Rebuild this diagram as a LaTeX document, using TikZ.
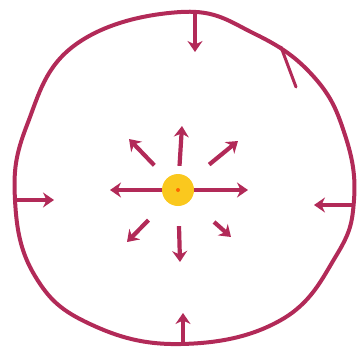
\documentclass[tikz,border=0pt]{standalone}
\usetikzlibrary{arrows.meta}
\definecolor{ring}{RGB}{178,42,88}
\definecolor{sunny}{RGB}{250,200,30}
\tikzset{
  push/.style={ring,line width=4.2pt,-{Stealth[length=11pt,width=15pt]}},
  sundot/.style={circle,fill=sunny,minimum size=32pt,inner sep=0pt}
}
\begin{document}
\begin{tikzpicture}[x=1pt,y=-1pt]
  \useasboundingbox (0,0) rectangle (361,353);
  % the ring
  \draw[ring,line width=4pt,line join=round] plot[smooth cycle,tension=0.7] coordinates
    {(181,12) (255,34) (314,77) (345,135) (354,200) (336,256) (281,320) (181,344)
     (90,324) (35,276) (15,200) (27,125) (75,45)};
  \draw[ring,line width=3pt,line cap=round] (281,47) -- (296,87);
  % the source
  \node[sundot] (sun) at (178,190) {};
  \fill[orange!80!red] (sun) circle (2pt);
  \foreach \x/\y/\g [count=\i] in {248/190/0,110/190/0,182/126/8,180/262/20,129/139/18,238/141/24,127/242/26,231/237/32}
    \draw[push,shorten <=\g pt] (sun) -- (\x,\y) coordinate (s\i);
  % pushing in from the ring
  \coordinate (tA) at (195,11);  \coordinate (tB) at (195,52);
  \coordinate (lA) at (16,200);  \coordinate (lB) at (54,200);
  \coordinate (rA) at (355,205); \coordinate (rB) at (314,205);
  \coordinate (bA) at (183,344); \coordinate (bB) at (183,313);
  \foreach \a/\b in {tA/tB,lA/lB,rA/rB,bA/bB}
    \draw[push] (\a) -- (\b);
\end{tikzpicture}
\end{document}
